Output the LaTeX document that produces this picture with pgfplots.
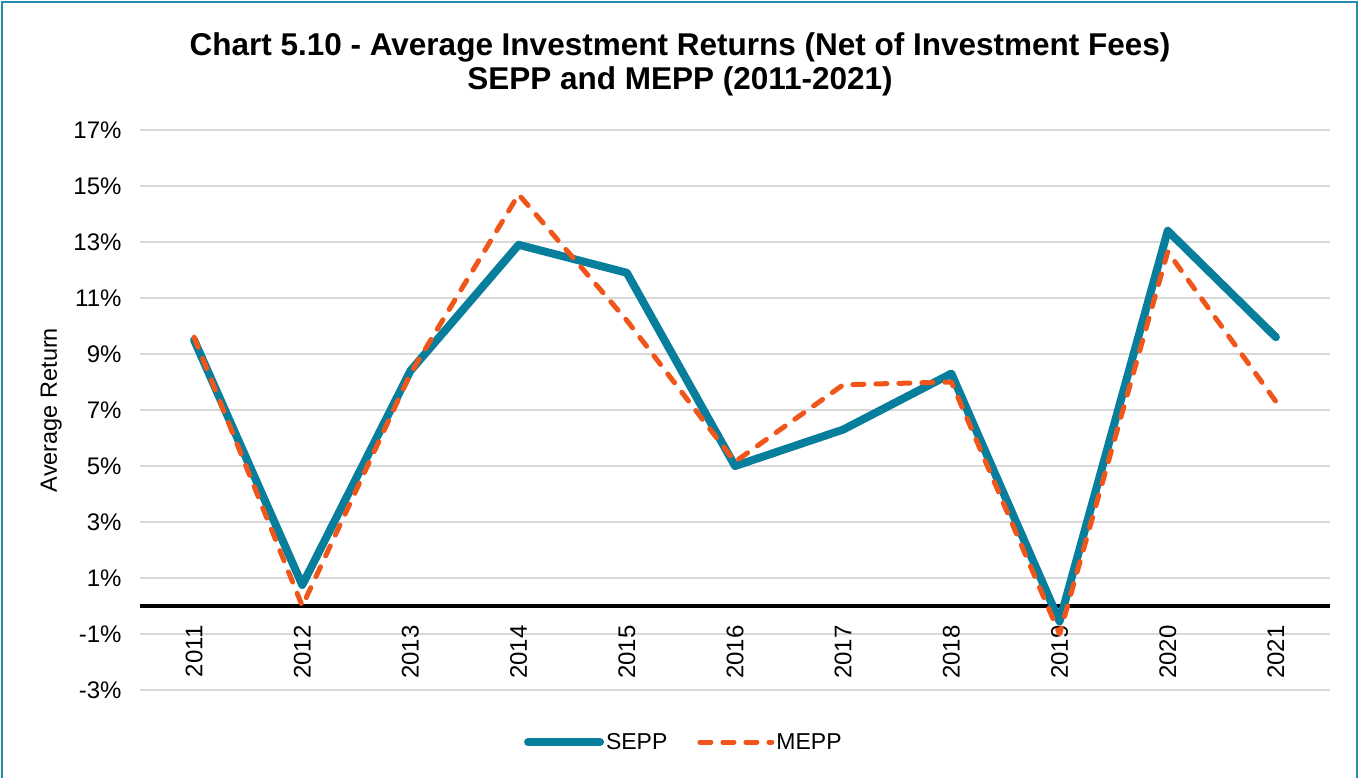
\documentclass[border=0pt]{standalone}
\usepackage{pgfplots}
\pgfplotsset{compat=1.18}
\usepackage{fontspec}
\setmainfont{Liberation Sans}
\definecolor{sepp}{RGB}{8,126,157}
\definecolor{mepp}{RGB}{240,85,25}
\definecolor{gridgray}{RGB}{217,217,217}
\definecolor{frame}{RGB}{40,140,175}
\begin{document}
\begin{tikzpicture}[x=1pt,y=1pt]
\useasboundingbox (-140,-88) rectangle (1219,690);
\draw[frame, line width=1.5pt] (-138,-100) -- (-138,688) -- (1217,688) -- (1217,-100);
\node[font=\fontsize{31.5}{34}\selectfont\bfseries, align=center] at (540,626)
  {Chart 5.10 - Average Investment Returns (Net of Investment Fees)\\SEPP and MEPP (2011-2021)};
\begin{axis}[
  at={(0,0)}, anchor=south west,
  scale only axis, width=1190pt, height=560pt,
  xmin=-0.5, xmax=10.5, ymin=-3, ymax=17,
  axis x line*=middle, axis y line*=left,
  x axis line style={draw=none}, y axis line style={draw=none},
  xtick={0,...,10},
  xticklabels={2011,2012,2013,2014,2015,2016,2017,2018,2019,2020,2021},
  ytick={-3,-1,1,3,5,7,9,11,13,15,17},
  yticklabels={-3\%,-1\%,1\%,3\%,5\%,7\%,9\%,11\%,13\%,15\%,17\%},
  tick style={draw=none},
  ymajorgrids, grid style={gridgray, line width=1.5pt},
  ticklabel style={font=\fontsize{24}{28}\selectfont},
  xticklabel style={yshift=-16pt, rotate=90, anchor=east},
  yticklabel style={xshift=-15pt},
  ylabel={Average Return},
  ylabel style={font=\fontsize{23.5}{27}\selectfont, at={(axis description cs:-0.0745,0.5)}, anchor=center, rotate=0},
  legend style={at={(axis description cs:0.457,-0.093)}, anchor=center, draw=none, fill=none,
    legend columns=2, font=\fontsize{23}{27}\selectfont,
    /tikz/every even column/.append style={column sep=28pt}},
  legend image code/.code={\draw[#1] (0pt,0pt) -- (72pt,0pt);},
]
\draw[black, line width=4pt] (axis cs:-0.5,0) -- (axis cs:10.5,0);
\addplot[sepp, line width=8pt, line join=round, line cap=round] coordinates {
  (0,9.5) (1,0.75) (2,8.4) (3,12.9) (4,11.9) (5,5.0) (6,6.3) (7,8.3) (8,-0.55) (9,13.4) (10,9.6)};
\addlegendentry{SEPP}
\addplot[mepp, line width=5pt, line join=round, line cap=round, dash pattern=on 11pt off 12pt] coordinates {
  (0,9.6) (1,0.0) (2,8.3) (3,14.7) (4,10.2) (5,5.15) (6,7.9) (7,8.0) (8,-1.0) (9,12.65) (10,7.3)};
\addlegendentry{MEPP}
\end{axis}
\end{tikzpicture}
\end{document}
